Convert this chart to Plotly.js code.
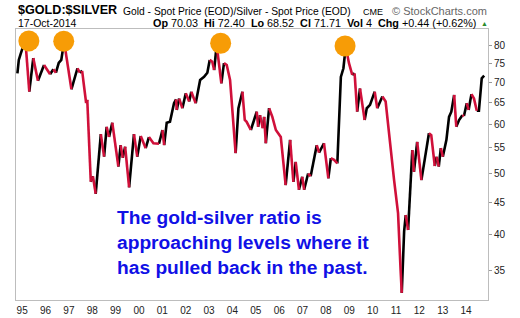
<!DOCTYPE html>
<html>
<head>
<meta charset="utf-8">
<script src="https://cdn.plot.ly/plotly-3.0.1.min.js"></script>
<style>html,body{margin:0;padding:0;background:#fff;}#chart{width:520px;height:318px;}</style>
</head>
<body>
<div id="chart"></div>
<script>
// Gold/Silver ratio
const dates = [
"1994-10-19","1994-11-10","1994-12-09","1995-01-11","1995-02-02","1995-02-16","1995-04-23","1995-06-24","1995-09-05","1995-12-09",
"1996-03-13","1996-05-03","1996-06-12","1996-07-26","1996-09-04","1996-10-18","1997-02-09","1997-05-15","1997-06-21","1997-07-27",
"1997-09-27","1997-10-15","1997-12-09","1998-01-11","1998-02-24","1998-05-15","1998-07-05","1998-08-14","1998-09-20","1998-11-10",
"1999-02-13","1999-03-21","1999-04-23","1999-05-30","1999-07-31","1999-10-15","1999-12-05","2000-01-29","2000-04-15","2000-06-05",
"2000-08-14","2000-11-09","2001-01-02","2001-01-29","2001-03-10","2001-04-30","2001-07-02","2001-08-03","2001-08-14","2001-09-20",
"2001-11-10","2002-01-02","2002-02-24","2002-03-29","2002-06-06","2002-08-14","2002-10-15","2002-12-05","2003-01-11","2003-02-20",
"2003-03-21","2003-04-30","2003-07-12","2003-08-22","2003-10-04","2003-11-25","2004-02-20","2004-04-04","2004-06-05","2004-07-12",
"2004-08-10","2004-10-15","2004-11-25","2005-01-15","2005-02-06","2005-03-07","2005-04-20","2005-05-11","2005-06-06","2005-07-27",
"2005-09-16","2005-11-10","2006-01-26","2006-04-12","2006-06-21","2006-08-11","2006-09-16","2006-11-06","2006-12-27","2007-01-26",
"2007-03-29","2007-05-08","2007-06-17","2007-08-11","2007-09-16","2007-12-02","2008-02-09","2008-03-18","2008-05-08","2008-06-28",
"2008-08-22","2008-10-01","2008-11-06","2008-12-27","2009-02-16","2009-03-25","2009-05-04","2009-06-17","2009-08-29","2009-10-01",
"2009-11-21","2010-02-02","2010-03-14","2010-06-02","2010-07-23","2010-12-02","2010-12-27","2011-02-02","2011-03-14","2011-04-01",
"2011-05-08","2011-06-02","2011-07-09","2011-09-13","2011-10-08","2011-11-10","2011-11-28","2012-02-02","2012-03-14","2012-05-30",
"2012-07-05","2012-08-29","2012-09-27","2012-10-30","2012-12-02","2013-01-02","2013-02-27","2013-04-09","2013-05-15","2013-06-28",
"2013-07-31","2013-09-13","2013-11-03","2013-11-28","2014-01-11","2014-02-09","2014-03-25","2014-05-04","2014-06-17","2014-07-20",
"2014-09-02","2014-10-10"
];
const ratio = [
72.3,76.0,77.7,79.3,80.8,82.8,67.6,76.5,70.4,74.6,
72.1,73.4,72.5,75.2,76.0,81.3,68.2,73.7,72.5,73.0,
64.8,65.6,48.5,49.5,46.4,57.8,53.2,59.4,57.2,60.3,
51.3,55.5,53.0,55.2,47.5,57.8,53.2,57.4,54.9,57.2,
55.9,55.8,58.7,55.5,60.3,60.5,64.8,65.7,63.2,65.9,
63.6,67.2,65.2,67.6,64.8,70.6,71.4,72.5,76.0,75.5,
73.2,80.3,69.7,75.1,74.6,70.6,53.9,63.6,67.6,60.9,
60.5,58.7,60.5,62.8,59.4,62.0,59.1,61.6,55.9,63.6,
61.6,58.7,57.2,47.9,56.6,48.5,52.2,47.1,49.4,47.1,
50.0,49.5,52.0,55.5,54.0,55.9,49.1,52.9,52.6,51.9,
71.4,73.7,79.8,75.1,71.9,72.3,62.8,68.4,60.9,63.6,
64.4,67.6,63.6,66.4,65.2,48.8,46.2,43.2,35.0,32.2,
40.4,42.9,40.6,54.5,50.3,54.9,56.2,48.8,51.9,58.0,
57.6,51.4,53.2,51.3,54.9,53.2,56.6,61.6,62.8,66.8,
59.4,60.9,62.0,61.8,64.8,63.2,67.0,65.9,63.0,63.0,
71.0,71.7
];
// hand-drawn highlight circles at the past peaks
const peakDates = ["1995-04-16","1996-10-12","2003-07-01","2008-10-27"];
const peakVals = [81.5,81.4,80.8,80.0];
const yTicks = [35,40,45,50,55,60,65,70,75,80];
const noteLines = ["The gold-silver ratio is","approaching levels where it","has pulled back in the past."];

// split into rising (black) and falling (red) segments
const upX=[],upY=[],dnX=[],dnY=[];
for(let i=0;i<ratio.length-1;i++){
  const up = ratio[i+1]>=ratio[i];
  const X = up?upX:dnX, Y = up?upY:dnY;
  if(X.length && X[X.length-1]!==dates[i]){X.push(null);Y.push(null);}
  if(!X.length || X[X.length-1]!==dates[i]){X.push(dates[i]);Y.push(ratio[i]);}
  X.push(dates[i+1]);Y.push(ratio[i+1]);
}

const F = "Liberation Sans, Arial, sans-serif";
const W=472,H=271,L=16,T=29;
const px=v=>(v-L)/W, py=v=>(T+H-v)/H;

const traces=[
 {x:upX,y:upY,mode:'lines',line:{color:'#000000',width:2.6},hoverinfo:'skip',connectgaps:false},
 {x:dnX,y:dnY,mode:'lines',line:{color:'#d0103a',width:2.6},hoverinfo:'skip',connectgaps:false},
 {x:peakDates,y:peakVals,mode:'markers',marker:{size:21,color:'#f79c06',line:{width:0}},hoverinfo:'skip'}
];

const ann=[
 {text:'<b>$GOLD:$SILVER</b>',x:px(16),y:py(10.5),xanchor:'left',yanchor:'middle',font:{size:12.6,color:'#000',family:F}},
 {text:'Gold - Spot Price (EOD)/Silver - Spot Price (EOD)',x:px(121),y:py(11),xanchor:'left',yanchor:'middle',font:{size:10.3,color:'#000',family:F}},
 {text:'CME',x:px(361),y:py(11.5),xanchor:'left',yanchor:'middle',font:{size:9,color:'#000',family:F}},
 {text:'© StockCharts.com',x:px(489),y:py(11),xanchor:'right',yanchor:'middle',font:{size:11,color:'#666',family:F}},
 {text:'17-Oct-2014',x:px(16),y:py(23),xanchor:'left',yanchor:'middle',font:{size:10.5,color:'#000',family:F}},
 {text:'<b>Op</b> 70.03  <b>Hi</b> 72.40  <b>Lo</b> 68.52  <b>Cl</b> 71.71  <b>Vol</b> 4  <b>Chg</b> +0.44 (+0.62%)',x:px(478),y:py(23),xanchor:'right',yanchor:'middle',font:{size:10.8,color:'#000',family:F}},
 {text:'▲',x:px(484),y:py(23.5),xanchor:'center',yanchor:'middle',font:{size:7,color:'#2a8a2a',family:F}},
 {text:'<b>'+noteLines.join('<br>')+'</b>',x:px(115),y:py(242),xanchor:'left',yanchor:'middle',align:'left',font:{size:19.2,color:'#1010e6',family:F}}
].map(a=>Object.assign({xref:'paper',yref:'paper',showarrow:false},a));

const layout={
 width:520,height:318,
 margin:{l:L,r:520-L-W,t:T,b:318-T-H,pad:0},
 paper_bgcolor:'#fff',plot_bgcolor:'#fff',
 showlegend:false,
 font:{family:F,size:10,color:'#222'},
 xaxis:{type:'date',range:['1994-09-27','2014-12-09'],tick0:'1995-01-01',dtick:'M12',tickformat:'%y',
        showgrid:false,zeroline:false,showline:true,mirror:true,linecolor:'#bdbdbd',linewidth:1,
        ticks:'',ticklabelstandoff:1,tickfont:{size:10,color:'#222',family:F}},
 yaxis:{type:'log',side:'right',range:[Math.log10(31.37),Math.log10(85.17)],tickvals:yTicks,ticktext:yTicks.map(String),
        showgrid:false,zeroline:false,showline:true,mirror:true,linecolor:'#bdbdbd',linewidth:1,
        ticks:'outside',ticklen:3,tickcolor:'#999',tickfont:{size:10,color:'#222',family:F}},
 annotations:ann
};
Plotly.newPlot('chart',traces,layout,{staticPlot:true,displayModeBar:false});
</script>
</body>
</html>
